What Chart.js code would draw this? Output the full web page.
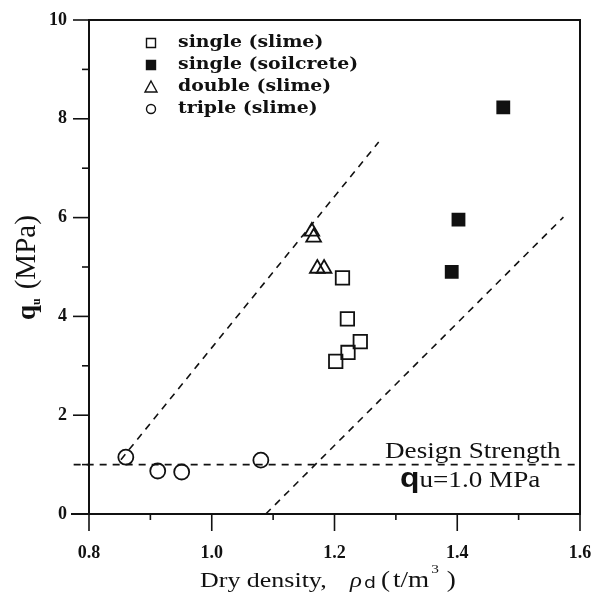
<!DOCTYPE html>
<html>
<head>
<meta charset="utf-8">
<script src="https://cdn.jsdelivr.net/npm/chart.js@4/dist/chart.umd.min.js"></script>
<style>
  html, body { margin: 0; padding: 0; background: #fff; }
</style>
</head>
<body>
<canvas id="chart" width="592" height="606"></canvas>
<script>
// --- data ---
const singleSlimeX = [1.213, 1.221, 1.242, 1.222, 1.202];
const singleSlimeY = [4.78, 3.95, 3.49, 3.27, 3.09];
const soilcreteX = [1.391, 1.402, 1.475];
const soilcreteY = [4.90, 5.96, 8.23];
const doubleX = [1.163, 1.166, 1.172, 1.183];
const doubleY = [5.72, 5.60, 4.97, 4.97];
const tripleX = [0.860, 0.912, 0.951, 1.080];
const tripleY = [1.15, 0.87, 0.85, 1.09];

const upperLineX = [0.852, 1.272];
const upperLineY = [1.10, 7.53];
const lowerLineX = [1.088, 1.573];
const lowerLineY = [0.00, 6.01];
const designX = [0.775, 1.60];
const designY = [1.0, 1.0];

const xTicks = [0.8, 1.0, 1.2, 1.4, 1.6];
const yTicks = [0, 2, 4, 6, 8, 10];

const legendItems = [
  { label: 'single (slime)', style: 'rect', fill: false },
  { label: 'single (soilcrete)', style: 'rect', fill: true },
  { label: 'double (slime)', style: 'triangle', fill: false },
  { label: 'triple (slime)', style: 'circle', fill: false }
];

function pts(xs, ys) {
  return xs.map((x, i) => ({ x: x, y: ys[i] }));
}

const ink = '#111';
const serif = '"Liberation Serif", "Times New Roman", serif';
const tickFont = { family: serif, size: 18, weight: 'bold' };

function markerSet(label, data, style, radius, filled) {
  return {
    label: label,
    data: data,
    showLine: false,
    pointStyle: style,
    pointRadius: radius,
    pointHoverRadius: radius,
    pointBorderWidth: 1.8,
    borderColor: ink,
    backgroundColor: filled ? ink : 'rgba(0,0,0,0)'
  };
}

function dashSet(data, clip) {
  return {
    label: '',
    data: data,
    showLine: true,
    borderColor: ink,
    borderWidth: 1.6,
    borderDash: [7, 6],
    pointRadius: 0,
    fill: false,
    clip: clip
  };
}

// the scan is a bit wider than tall, so the text is stretched sideways
const stretch = 1.18;
function wideText(ctx, str, x, y) {
  ctx.save();
  ctx.translate(x, y);
  ctx.scale(stretch, 1);
  ctx.fillText(str, 0, 0);
  ctx.restore();
  return ctx.measureText(str).width * stretch;
}

// frame, ticks, legend, annotations, axis titles
const decor = {
  id: 'decor',
  afterDraw(chart) {
    const ctx = chart.ctx;
    const a = chart.chartArea;
    const xs = chart.scales.x, ys = chart.scales.y;
    ctx.save();
    ctx.strokeStyle = ink;
    ctx.fillStyle = ink;
    ctx.lineWidth = 2;
    ctx.strokeRect(a.left, a.top, a.right - a.left, a.bottom - a.top);

    // y ticks (major on even, minor on odd)
    ctx.lineWidth = 1.6;
    for (let v = 0; v <= 10; v++) {
      const y = ys.getPixelForValue(v);
      const len = v % 2 === 0 ? 16 : 7;
      ctx.beginPath();
      ctx.moveTo(a.left - len, y);
      ctx.lineTo(a.left, y);
      ctx.stroke();
    }
    // x ticks
    for (let i = 0; i <= 8; i++) {
      const v = 0.8 + i * 0.1;
      const x = xs.getPixelForValue(v);
      const len = i % 2 === 0 ? 17 : 6;
      ctx.beginPath();
      ctx.moveTo(x, a.bottom);
      ctx.lineTo(x, a.bottom + len);
      ctx.stroke();
    }
    // x axis runs a bit past the y axis on the left
    ctx.lineWidth = 2;
    ctx.beginPath();
    ctx.moveTo(a.left - 18, a.bottom);
    ctx.lineTo(a.left, a.bottom);
    ctx.stroke();

    // legend
    ctx.font = 'bold 16px "DejaVu Serif", serif';
    ctx.textBaseline = 'middle';
    ctx.textAlign = 'left';
    legendItems.forEach((it, i) => {
      const cx = 151, cy = 43 + i * 22;
      ctx.lineWidth = 1.4;
      ctx.beginPath();
      if (it.style === 'rect') {
        ctx.rect(cx - 4.5, cy - 4.5, 9, 9);
      } else if (it.style === 'triangle') {
        ctx.moveTo(cx, cy - 6);
        ctx.lineTo(cx + 6, cy + 5);
        ctx.lineTo(cx - 6, cy + 5);
        ctx.closePath();
      } else {
        ctx.arc(cx, cy, 4.5, 0, Math.PI * 2);
      }
      if (it.fill) ctx.fill();
      ctx.stroke();
      wideText(ctx, it.label, 178, cy);
    });

    // design strength annotation
    ctx.textBaseline = 'alphabetic';
    ctx.textAlign = 'left';
    ctx.font = '23px ' + serif;
    wideText(ctx, 'Design Strength', 385, ys.getPixelForValue(1.13));
    const by = ys.getPixelForValue(0.55);
    ctx.font = 'bold 27px "Liberation Sans", sans-serif';
    let x0 = 400;
    x0 += wideText(ctx, 'q', x0, by);
    ctx.font = '23px ' + serif;
    wideText(ctx, 'u=1.0 MPa', x0, by);

    // x axis title
    const tY = 587;
    ctx.font = '22px ' + serif;
    wideText(ctx, 'Dry density,', 200, tY);
    ctx.font = 'italic 21px ' + serif;
    wideText(ctx, '\u03C1', 350, tY);
    ctx.font = '16px "DejaVu Sans", sans-serif';
    wideText(ctx, 'd', 364, tY + 1);
    ctx.font = '23px ' + serif;
    wideText(ctx, '(', 381, tY);
    let tx = 393;
    tx += wideText(ctx, 't/m', tx, tY) + 2;
    ctx.font = '13px ' + serif;
    tx += wideText(ctx, '3', tx, tY - 14) + 8;
    ctx.font = '23px ' + serif;
    wideText(ctx, ')', tx, tY);

    // y axis title (rotated)
    ctx.translate(35, 262);
    ctx.rotate(-Math.PI / 2);
    let yx = -58;
    ctx.font = 'bold 27px ' + serif;
    ctx.fillText('q', yx, 0);
    yx += ctx.measureText('q').width;
    ctx.font = 'bold 12px ' + serif;
    ctx.fillText('u', yx, 5);
    yx += ctx.measureText('u').width + 9;
    ctx.font = '29px ' + serif;
    ctx.fillText('(MPa)', yx, 0);
    ctx.restore();
  }
};

new Chart(document.getElementById('chart').getContext('2d'), {
  type: 'scatter',
  data: {
    datasets: [
      dashSet(pts(designX, designY), false),
      dashSet(pts(upperLineX, upperLineY), true),
      dashSet(pts(lowerLineX, lowerLineY), true),
      markerSet('single (slime)', pts(singleSlimeX, singleSlimeY), 'rect', 9.5, false),
      markerSet('single (soilcrete)', pts(soilcreteX, soilcreteY), 'rect', 8.5, true),
      markerSet('double (slime)', pts(doubleX, doubleY), 'triangle', 8.5, false),
      markerSet('triple (slime)', pts(tripleX, tripleY), 'circle', 7.5, false)
    ]
  },
  options: {
    responsive: false,
    animation: false,
    layout: { padding: { top: 20, right: 12, left: 0, bottom: 0 } },
    plugins: {
      legend: { display: false },
      tooltip: { enabled: false }
    },
    scales: {
      x: {
        type: 'linear',
        min: 0.8,
        max: 1.6,
        afterBuildTicks: s => { s.ticks = xTicks.map(v => ({ value: v })); },
        afterFit: s => { s.height = 92; s.paddingLeft = 0; s.paddingRight = 0; },
        grid: { display: false, drawTicks: false },
        border: { display: true, color: ink, width: 2 },
        ticks: {
          padding: 29,
          color: ink,
          font: tickFont,
          callback: v => v.toFixed(1)
        }
      },
      y: {
        min: 0,
        max: 10,
        afterBuildTicks: s => { s.ticks = yTicks.map(v => ({ value: v })); },
        afterFit: s => { s.width = 89; s.paddingTop = 0; s.paddingBottom = 0; },
        grid: { display: false, drawTicks: false },
        border: { display: true, color: ink, width: 2 },
        ticks: {
          padding: 22,
          color: ink,
          font: tickFont,
          callback: v => String(v)
        }
      }
    }
  },
  plugins: [decor]
});
</script>
</body>
</html>
